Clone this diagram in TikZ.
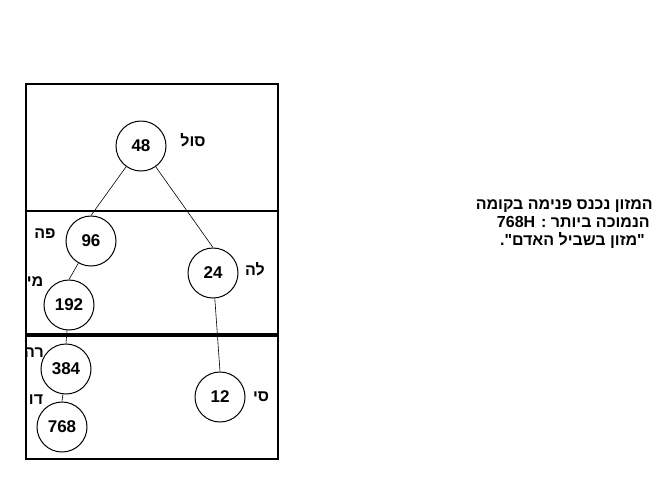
\documentclass[tikz,border=0pt]{standalone}
\usepackage{fontspec}
\setmainfont{Liberation Sans}
\newfontfamily\heb[Script=Hebrew]{Liberation Sans}
\TeXXeTstate=1
\begin{document}
\begin{tikzpicture}[x=1pt,y=-1pt,
  num/.style={circle,draw,line width=1pt,fill=white,minimum size=50pt,inner sep=0pt,font=\fontsize{17}{19}\selectfont\bfseries},
  lab/.style={font=\heb\fontsize{16}{18}\selectfont\bfseries,inner sep=0pt},
  txt/.style={font=\heb\fontsize{16}{18}\selectfont\bfseries,inner sep=0pt,anchor=base east},
  conn/.style={line width=0.6pt},
  frame/.style={line width=2pt}]
\useasboundingbox[fill=white] (0,0) rectangle (666,499);
% labels
\node[lab] (l48) at (193,140) {\beginR סול\endR};
\node[lab] (l96) at (45,234) {\beginR פה\endR};
\node[lab] (l24) at (255,269) {\beginR לה\endR};
\node[lab] (l192) at (35,282) {\beginR מי\endR};
\node[lab] (l384) at (34,353) {\beginR רה\endR};
\node[lab] (l768) at (36,400) {\beginR דו\endR};
\node[lab] (l12) at (261,397) {\beginR סי\endR};
% circles
\node[num] (n48) at (141,146) {48};
\node[num] (n96) at (91,241) {96};
\node[num] (n24) at (213,273) {24};
\node[num] (n192) at (69,305) {192};
\node[num] (n384) at (66,369) {384};
\node[num] (n12) at (220,397) {12};
\node[num] (n768) at (62,427) {768};
% connectors
\draw[conn] (n48) -- (n96.north);
\draw[conn] (n48) -- (n24.north);
\draw[conn] (n96) -- (n192.north);
\draw[conn] (n192) -- (n384.north);
\draw[conn] (n384) -- (n768.north);
\draw[conn] (n24) -- (n12.north);
% frame
\coordinate (tl) at (26,84);
\coordinate (br) at (278,459);
\coordinate (d1l) at (26,211);
\coordinate (d1r) at (278,211);
\coordinate (d2l) at (26,335);
\coordinate (d2r) at (278,335);
\draw[frame] (tl) rectangle (br);
\draw[frame] (d1l) -- (d1r);
\draw[line width=4pt] (d2l) -- (d2r);
% right text
\node[txt] (t1) at (653,209) {\beginR המזון נכנס פנימה בקומה\endR};
\node[txt] (t2) at (650,227) {\beginR הנמוכה ביותר : \beginL 768H\endL\endR};
\node[txt] (t3) at (645,245) {\beginR"מזון בשביל האדם".\endR};
\end{tikzpicture}
\end{document}
